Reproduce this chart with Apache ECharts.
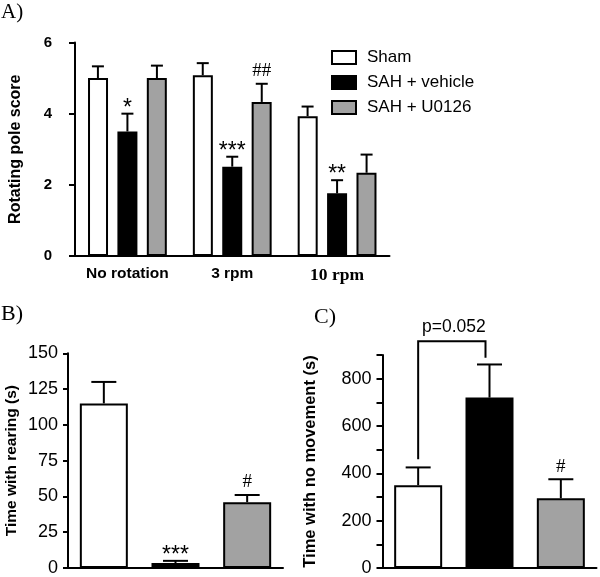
<!DOCTYPE html>
<html><head><meta charset="utf-8">
<script src="https://cdn.jsdelivr.net/npm/echarts@6/dist/echarts.min.js"></script>
<style>html,body{margin:0;padding:0;background:#fff}#c{width:600px;height:577px}</style>
</head><body><div id="c"></div>
<script>
// ---------- data ----------
const catsA = ['No rotation', '3 rpm', '10 rpm'];
const groups = ['Sham', 'SAH + vehicle', 'SAH + U0126'];
const groupColors = ['#ffffff', '#000000', '#a2a2a2'];
// Panel A: rotating pole score (mean, SEM)
const shamA = [5.0, 5.08, 3.93];
const shamAErr = [0.33, 0.34, 0.27];
const vehA = [3.5, 2.51, 1.76];
const vehAErr = [0.5, 0.28, 0.37];
const u0126A = [5.0, 4.33, 2.34];
const u0126AErr = [0.35, 0.51, 0.51];
const sigA = [['', '', ''], ['*', '***', '**'], ['', '##', '']];
const yTicksA = [0, 2, 4, 6];
// Panel B: time with rearing (s)
const rearing = [115, 3.5, 46];
const rearingErr = [15, 1.5, 5];
const sigB = ['', '***', '#'];
const yTicksB = [0, 25, 50, 75, 100, 125, 150];
// Panel C: time with no movement (s)
const noMove = [350, 720, 295];
const noMoveErr = [75, 140, 80];
const sigC = ['', '', '#'];
const yTicksC = [0, 200, 400, 600, 800];
const bracketC = {from: 0, to: 1, top: 958, leftBottom: 460, rightBottom: 888, text: 'p=0.052'};

// ---------- helpers ----------
const SANS = 'Liberation Sans, Arial, sans-serif';
const SERIF = 'Liberation Serif, Times New Roman, serif';

function errSeries(gridIdx, vals, errs, sig, offset, capW) {
  return {
    type: 'custom', xAxisIndex: gridIdx, yAxisIndex: gridIdx, z: 5,
    data: vals.map((v, i) => [i, v, errs[i]]),
    renderItem: function (params, api) {
      const i = api.value(0), v = api.value(1), e = api.value(2);
      const b = api.coord([i, v]);
      const t = api.coord([i, v + e]);
      const x = b[0] + offset;
      const children = [
        {type: 'line', shape: {x1: x, y1: b[1], x2: x, y2: t[1]}, style: {stroke: '#000', lineWidth: 2}},
        {type: 'line', shape: {x1: x - capW / 2, y1: t[1], x2: x + capW / 2, y2: t[1]}, style: {stroke: '#000', lineWidth: 2}}
      ];
      const s = sig[params.dataIndex];
      if (s) {
        const isHash = s.indexOf('#') >= 0;
        children.push({type: 'text', style: {
          text: s, x: x, y: isHash ? t[1] - 3 : t[1] + 6, align: 'center', verticalAlign: 'bottom',
          font: isHash ? '19px ' + SERIF : '23px ' + SANS, fill: '#000'
        }});
      }
      return {type: 'group', children: children};
    }
  };
}

const axisLine = {show: true, lineStyle: {color: '#000', width: 2}};

const option = {
  animation: false,
  backgroundColor: '#fff',
  legend: {
    data: groups, orient: 'vertical', left: 331, top: 49, padding: 0,
    itemWidth: 24, itemHeight: 13, itemGap: 8,
    icon: 'rect',
    itemStyle: {borderColor: '#000', borderWidth: 2},
    textStyle: {fontFamily: SANS, fontSize: 17, color: '#000', padding: [0, 0, 0, 6]}
  },
  grid: [
    {left: 68.5, top: 42.5, width: 321, height: 213.5},
    {left: 68, top: 353.3, width: 215, height: 215},
    {left: 382.5, top: 355, width: 214, height: 214.3}
  ],
  xAxis: [
    {type: 'category', gridIndex: 0, data: catsA, axisLine: axisLine, axisTick: {show: false},
      axisLabel: {margin: 10, formatter: v => v === '10 rpm' ? '{t|' + v + '}' : '{s|' + v + '}',
        rich: {s: {fontFamily: SANS, fontWeight: 'bold', fontSize: 15.5, color: '#000'},
               t: {fontFamily: SERIF, fontWeight: 'bold', fontSize: 17.5, color: '#000'}}}},
    {type: 'category', gridIndex: 1, data: groups, axisLine: axisLine, axisTick: {show: false}, axisLabel: {show: false}},
    {type: 'category', gridIndex: 2, data: groups, axisLine: axisLine, axisTick: {show: false}, axisLabel: {show: false}}
  ],
  yAxis: [
    {type: 'value', gridIndex: 0, min: yTicksA[0], max: yTicksA[yTicksA.length - 1], interval: yTicksA[1] - yTicksA[0],
      axisLine: axisLine, splitLine: {show: false},
      axisTick: {show: true, length: 6, lineStyle: {color: '#000', width: 2}},
      axisLabel: {margin: 23, fontFamily: SANS, fontWeight: 'bold', fontSize: 15, color: '#000'},
      name: 'Rotating pole score', nameLocation: 'middle', nameGap: 51, nameRotate: 90,
      nameTextStyle: {fontFamily: SANS, fontWeight: 'bold', fontSize: 16, color: '#000'}},
    {type: 'value', gridIndex: 1, min: yTicksB[0], max: yTicksB[yTicksB.length - 1], interval: yTicksB[1] - yTicksB[0],
      axisLine: axisLine, splitLine: {show: false},
      axisTick: {show: true, length: 5, lineStyle: {color: '#000', width: 2}},
      axisLabel: {margin: 10, fontFamily: SANS, fontSize: 18, color: '#000'},
      name: 'Time with rearing (s)', nameLocation: 'middle', nameGap: 48, nameRotate: 90,
      nameTextStyle: {fontFamily: SANS, fontWeight: 'bold', fontSize: 15.5, color: '#000'}},
    {type: 'value', gridIndex: 2, min: 0, max: 900, interval: 100,
      axisLine: axisLine, splitLine: {show: false},
      axisTick: {show: true, length: 6, lineStyle: {color: '#000', width: 2}},
      axisLabel: {margin: 11, fontFamily: SANS, fontSize: 18, color: '#000',
        formatter: v => yTicksC.indexOf(v) >= 0 ? String(v) : ''},
      name: 'Time with no movement (s)', nameLocation: 'middle', nameGap: 64, nameRotate: 90,
      nameTextStyle: {fontFamily: SANS, fontWeight: 'bold', fontSize: 16.5, color: '#000'}}
  ],
  graphic: [
    {type: 'text', left: 1, top: 2, style: {text: 'A)', font: '21px ' + SERIF, fill: '#000'}},
    {type: 'text', left: 1, top: 303, style: {text: 'B)', font: '22px ' + SERIF, fill: '#000'}},
    {type: 'text', left: 314, top: 306, style: {text: 'C)', font: '22px ' + SERIF, fill: '#000'}}
  ],
  series: []
};

// Panel A bars
const aVals = [shamA, vehA, u0126A];
const aErrs = [shamAErr, vehAErr, u0126AErr];
aVals.forEach((vals, k) => {
  option.series.push({
    name: groups[k], type: 'bar', xAxisIndex: 0, yAxisIndex: 0, data: vals,
    barWidth: 20, barGap: '47%',
    itemStyle: {color: groupColors[k], borderColor: '#000', borderWidth: 2}
  });
});
aVals.forEach((vals, k) => {
  option.series.push(errSeries(0, vals, aErrs[k], sigA[k], (k - 1) * 29.5, 12));
});

// Panel B
option.series.push({
  type: 'bar', xAxisIndex: 1, yAxisIndex: 1, barWidth: 48,
  data: rearing.map((v, i) => ({value: v, itemStyle: {color: groupColors[i]}})),
  itemStyle: {borderColor: '#000', borderWidth: 2}
});
option.series.push(errSeries(1, rearing, rearingErr, sigB, 0, 25));

// Panel C
option.series.push({
  type: 'bar', xAxisIndex: 2, yAxisIndex: 2, barWidth: 48,
  data: noMove.map((v, i) => ({value: v, itemStyle: {color: groupColors[i]}})),
  itemStyle: {borderColor: '#000', borderWidth: 2}
});
option.series.push(errSeries(2, noMove, noMoveErr, sigC, 0, 25));
option.series.push({
  type: 'custom', xAxisIndex: 2, yAxisIndex: 2, z: 6,
  data: [[bracketC.from, bracketC.to, bracketC.top, bracketC.leftBottom, bracketC.rightBottom]],
  renderItem: function (params, api) {
    const l = api.coord([api.value(0), api.value(3)]);
    const lt = api.coord([api.value(0), api.value(2)]);
    const r = api.coord([api.value(1), api.value(4)]);
    const rt = api.coord([api.value(1), api.value(2)]);
    return {type: 'group', children: [
      {type: 'polyline', shape: {points: [l, lt, [r[0] - 4, rt[1]], [r[0] - 4, r[1]]]}, style: {stroke: '#000', lineWidth: 2, fill: null}},
      {type: 'text', style: {text: bracketC.text, x: (lt[0] + rt[0]) / 2, y: lt[1] - 5, align: 'center', verticalAlign: 'bottom',
        font: '17.5px ' + SANS, fill: '#000'}}
    ]};
  }
});

const chart = echarts.init(document.getElementById('c'), null, {renderer: 'canvas'});
chart.setOption(option);
</script>
</body></html>
